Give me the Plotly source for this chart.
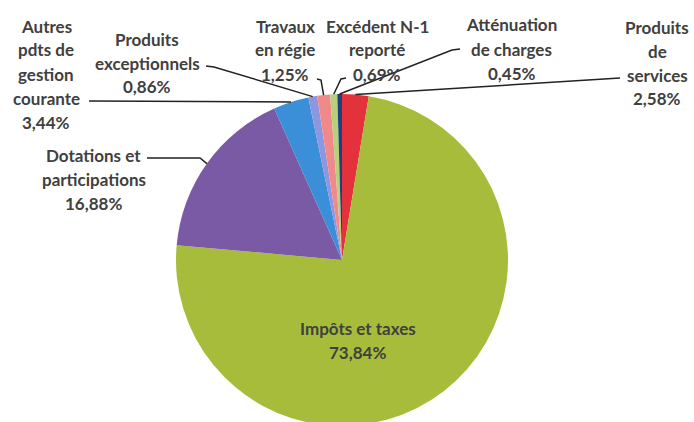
import math
import plotly.graph_objects as go

# ---- data ----
categories = ["Produits de services", "Impôts et taxes", "Dotations et participations",
              "Autres pdts de gestion courante", "Produits exceptionnels",
              "Travaux en régie", "Excédent N-1 reporté", "Atténuation de charges"]
values = [2.58, 73.84, 16.88, 3.44, 0.86, 1.25, 0.69, 0.45]
label_lines = [["Produits", "de", "services"], ["Impôts et taxes"], ["Dotations et", "participations"],
               ["Autres", "pdts de", "gestion", "courante"], ["Produits", "exceptionnels"],
               ["Travaux", "en régie"], ["Excédent N-1", "reporté"], ["Atténuation", "de charges"]]
colors = ["#E3323B", "#A8BC3C", "#7A5AA5", "#3A8FD8", "#8F96E0", "#F08A8A", "#B8D07A", "#1F3F7F"]

# ---- layout (pixels) ----
W, H = 694, 432   # page window is 422 tall: the pie bottom is cut off as in the original
CX, CY, R = 342, 260, 166
LINE_H = 24
# label centre x, first line centre y
label_pos = [(657, 27), (358, 328), (94, 155), (46, 26), (147, 39), (285, 26), (377, 26), (512, 25)]
# leader line start points (None = no leader)
leader_pts = [[(620, 78)], None, [(147, 158), (200, 158)], [(89, 101)], [(206, 66), (214, 67)],
              [(317, 79), (321, 80)], [(346, 78), (341, 79)], [(460, 49), (452, 50)]]

def px(x):
    return x / W

def py(y):
    return 1 - y / H

fig = go.Figure(go.Pie(
    labels=categories, values=values, sort=False, direction="clockwise", rotation=0,
    marker=dict(colors=colors, line=dict(width=0)), textinfo="none", hoverinfo="label+percent",
    domain=dict(x=[px(CX - R), px(CX + R)], y=[py(CY + R), py(CY - R)]),
    showlegend=False,
))

total = sum(values)
cum = 0
annotations = []
shapes = []
font = dict(family="Lato, Carlito, sans-serif", size=17, color="#404040", weight="bold")
for i, v in enumerate(values):
    mid = (cum + v / 2) / total * 2 * math.pi
    cum += v
    rim = (CX + R * math.sin(mid), CY - R * math.cos(mid))
    lines = label_lines[i] + [f"{v:.2f}".replace(".", ",") + "%"]
    lx, ly = label_pos[i]
    for k, t in enumerate(lines):
        annotations.append(dict(x=px(lx), y=py(ly + k * LINE_H), xref="paper", yref="paper",
                                text=t, showarrow=False, font=font, xanchor="center", yanchor="middle"))
    if leader_pts[i]:
        pts = leader_pts[i] + [rim]
        path = "M " + " L ".join(f"{px(a)},{py(b)}" for a, b in pts)
        shapes.append(dict(type="path", path=path, xref="paper", yref="paper",
                           line=dict(color="#222222", width=1.5)))

fig.update_layout(width=W, height=H, margin=dict(l=0, r=0, t=0, b=0),
                  paper_bgcolor="white", plot_bgcolor="white",
                  annotations=annotations, shapes=shapes)
fig.write_html("out.html", config={"displayModeBar": False},
               post_script="document.body.style.margin='0';document.body.style.overflow='hidden';")
